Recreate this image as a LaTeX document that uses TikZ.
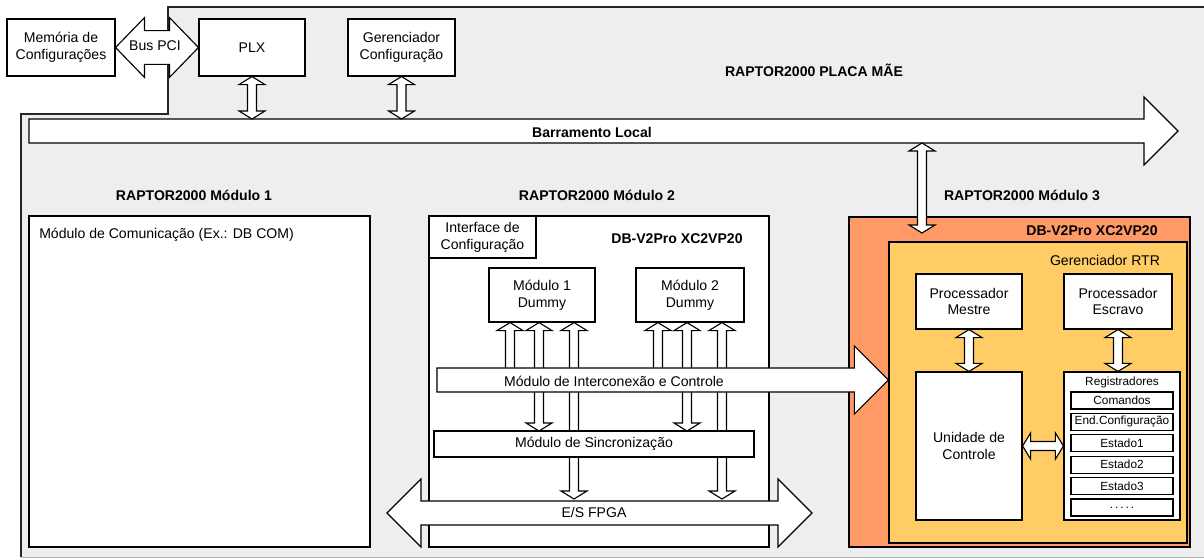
\documentclass[tikz,border=0pt]{standalone}
\usepackage{fontspec}
\setmainfont{Liberation Sans}
\usetikzlibrary{calc,math}

\definecolor{boardgray}{HTML}{EEEEEE}
\definecolor{fpgaorange}{HTML}{FF9966}
\definecolor{rtryellow}{HTML}{FFCC66}

\newcommand{\arrshaft}{3.2pt}
\newcommand{\arrhead}{9.25pt}
\newcommand{\arrlen}{5.7pt}
\tikzset{
  shaft half/.store in=\arrshaft,
  head half/.store in=\arrhead,
  head len/.store in=\arrlen,
  boxsize/.style 2 args={minimum width=#1*0.025cm, minimum height=#2*0.025cm},
}

% vertical block arrow with two heads, #2 upper end, #3 lower end
\newcommand{\vlink}[3][]{%
  \draw[blockarrow,#1] let \p1=(#2), \p2=(#3) in
    (\x1,\y1) -- (\x1+\arrhead,\y1-\arrlen) -- (\x1+\arrshaft,\y1-\arrlen)
    -- (\x1+\arrshaft,\y2+\arrlen) -- (\x1+\arrhead,\y2+\arrlen) -- (\x1,\y2)
    -- (\x1-\arrhead,\y2+\arrlen) -- (\x1-\arrshaft,\y2+\arrlen)
    -- (\x1-\arrshaft,\y1-\arrlen) -- (\x1-\arrhead,\y1-\arrlen) -- cycle;}

% horizontal block arrow with two heads, #2 left end, #3 right end
\newcommand{\hlink}[3][]{%
  \draw[blockarrow,#1] let \p1=(#2), \p2=(#3) in
    (\x1,\y1) -- (\x1+\arrlen,\y1+\arrhead) -- (\x1+\arrlen,\y1+\arrshaft)
    -- (\x2-\arrlen,\y1+\arrshaft) -- (\x2-\arrlen,\y1+\arrhead) -- (\x2,\y1)
    -- (\x2-\arrlen,\y1-\arrhead) -- (\x2-\arrlen,\y1-\arrshaft)
    -- (\x1+\arrlen,\y1-\arrshaft) -- (\x1+\arrlen,\y1-\arrhead) -- cycle;}

% horizontal block arrow, head at the right end only
\newcommand{\hbus}[3][]{%
  \draw[blockarrow,#1] let \p1=(#2), \p2=(#3) in
    (\x1,\y1+\arrshaft) -- (\x2-\arrlen,\y1+\arrshaft) -- (\x2-\arrlen,\y1+\arrhead)
    -- (\x2,\y1) -- (\x2-\arrlen,\y1-\arrhead) -- (\x2-\arrlen,\y1-\arrshaft)
    -- (\x1,\y1-\arrshaft) -- cycle;}

\begin{document}
\begin{tikzpicture}[x=0.025cm, y=-0.025cm, font=\fontsize{10}{12}\selectfont]
\tikzstyle{box}=[rectangle, draw=black, fill=white, line width=0.8pt, inner sep=0pt, align=center]
\tikzstyle{regbox}=[box, boxsize={102}{17}, font=\fontsize{8.4}{10}\selectfont]
\tikzstyle{title}=[font=\fontsize{10}{12}\selectfont\bfseries]
\tikzstyle{blockarrow}=[draw=black, fill=white, line width=0.8pt, line join=miter]
\tikzstyle{thin link}=[shaft half=3.2pt, head half=9.25pt, head len=5.7pt]
\tikzstyle{pci link}=[shaft half=12pt, head half=21.3pt, head len=20.6pt]
\tikzstyle{wide bus}=[shaft half=8.5pt, head half=24.2pt, head len=24.2pt]

\useasboundingbox (0,0) rectangle (1204,559);

% mother board
\fill[boardgray] (21,114) -- (168,114) -- (168,7) -- (1204,7) -- (1204,557) -- (21,557) -- cycle;
\draw[line width=0.8pt, black!85] (21,557) -- (21,114) -- (168,114) -- (168,7) -- (1204,7);
\draw[black!30] (21,557) -- (1204,557);

% top row
\node[box, boxsize={108}{57}] (mem) at (61,47.5) {Memória de\\Configurações};
\node[box, boxsize={106}{57}] (plx) at (252,47.5) {PLX};
\node[box, boxsize={107}{57}] (gercfg) at (401.5,47.5) {Gerenciador\\Configuração};
\hlink[pci link]{mem.east}{plx.west}
\node (pcilabel) at (155,46) {Bus PCI};
\node[title] (board) at (814,70) {RAPTOR2000 PLACA MÃE};

% local bus
\coordinate (busL) at (29,131);
\coordinate (busR) at (1178,131);
\coordinate (bustop) at (0,119);
\coordinate (busbot) at (0,143);
\hbus[wide bus]{busL}{busR}
\node[title] (buslabel) at (592,132) {Barramento Local};
\vlink[thin link]{plx.south}{plx.south |- bustop}
\vlink[thin link]{gercfg.south}{gercfg.south |- bustop}

\foreach \x/\n in {194/1, 597/2, 1022/3}
    \node[title] (title\n) at (\x,195) {RAPTOR2000 Módulo \n};

% module 1
\node[box, boxsize={341}{331}] (mod1) at (199.5,381.5) {};
\node[anchor=west, inner sep=0pt] (mod1text) at (39,235) {Módulo de Comunicação (Ex.: DB COM)};

% module 2
\node[box, boxsize={340}{331}] (mod2) at (599,381.5) {};
\node[box, boxsize={107}{42}] (intcfg) at (482.5,237) {Interface de\\Configuração};
\node[title] (db2) at (677,239) {DB-V2Pro XC2VP20};
\node[box, boxsize={106}{54}] (dummy1) at (542,295) {Módulo 1\\Dummy};
\node[box, boxsize={108}{54}] (dummy2) at (690,295) {Módulo 2\\Dummy};

% module 3
\node[box, fill=fpgaorange, boxsize={341}{330}] (mod3) at (1019.5,382) {};
\node[title] (db3) at (1092,231) {DB-V2Pro XC2VP20};
\node[box, fill=rtryellow, boxsize={298}{301}] (rtr) at (1038,392.5) {};
\node (rtrlabel) at (1105,260) {Gerenciador RTR};
\node[box, boxsize={106}{55}] (mestre) at (969,301.5) {Processador\\Mestre};
\node[box, boxsize={108}{55}] (escravo) at (1118,301.5) {Processador\\Escravo};
\node[box, boxsize={106}{148}] (unidade) at (969,446) {Unidade de\\Controle};
\node[box, boxsize={116}{148}] (regs) at (1122,446) {};
\node[font=\fontsize{8.4}{10}\selectfont] (regslabel) at (1122,382) {Registradores};
\foreach \i/\reg in {0/Comandos, 1/End.Configuração, 2/Estado1, 3/Estado2, 4/Estado3, 5/{.\,.\,.\,.\,.}} {
    \tikzmath{
        real \ry;
        \ry = 400.5 + 21.4 * \i;
    }
    \node[regbox] (reg\i) at (1122,\ry) {\reg};
};
\vlink[thin link]{mestre.south}{unidade.north}
\vlink[thin link]{escravo.south}{escravo.south |- regs.north}
\hlink[thin link]{unidade.east}{regs.west}
\coordinate (m3in) at (922,233);
\vlink[thin link]{m3in |- busbot}{m3in}

% links inside module 2
\coordinate (intcL) at (437,380);
\coordinate (sinctop) at (0,431);
\coordinate (esL) at (387,513);
\coordinate (esR) at (812,513);
\coordinate (estop) at (0,499);

\foreach \dm in {dummy1, dummy2}
    \foreach \dx/\dst in {-32/intcL, -3/sinctop, 32/estop} {
        \coordinate (ltop) at ($(\dm.south)+(\dx,0)$);
        \vlink[thin link]{ltop}{ltop |- \dst}
    };

\hbus[wide bus]{intcL}{intcL -| rtr.west}
\node (intclabel) at (614,381) {Módulo de Interconexão e Controle};
\node[box, boxsize={320}{26}] (sinc) at (594,444) {Módulo de Sincronização};
\hlink[wide bus]{esL}{esR}
\node (eslabel) at (594,512) {E/S FPGA};

\end{tikzpicture}
\end{document}
